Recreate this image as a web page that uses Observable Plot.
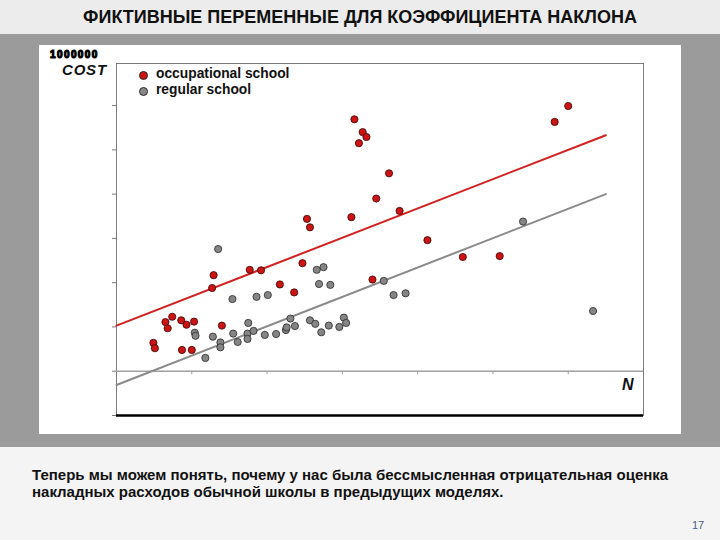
<!DOCTYPE html>
<html><head><meta charset="utf-8">
<script src="https://cdn.jsdelivr.net/npm/d3@7"></script>
<script src="https://cdn.jsdelivr.net/npm/@observablehq/plot@0.6"></script>
<style>
body{margin:0;background:#f3f3f3;}
#page{position:relative;width:720px;height:540px;background:#f4f4f4;font-family:"Liberation Sans",Arial,sans-serif;overflow:hidden}
#top{position:absolute;left:0;top:0;width:720px;height:34px;background:#ececec}
#title{position:absolute;left:0;top:0;width:720px;height:34px;line-height:34px;text-align:center;font-weight:bold;font-size:18px;color:#111}
#band{position:absolute;left:0;top:34px;width:720px;height:413px;background:#9b9b9b}
#panel{position:absolute;left:39px;top:45px;width:642px;height:389px;background:#fff}
#panel svg{display:block}
.ov{position:absolute;white-space:nowrap}
#garbled{position:absolute;left:50px;top:50px;font-weight:bold;font-size:10px;letter-spacing:1.4px;color:#000;line-height:9px;height:9px;-webkit-text-stroke:1.1px #000}
#cost{position:absolute;left:62px;top:63px;font-weight:bold;font-style:italic;font-size:15px;letter-spacing:0.8px;color:#111;line-height:13px}
#caption{position:absolute;left:32px;top:466px;font-weight:bold;font-size:15px;line-height:17px;color:#111}
#pg{position:absolute;left:692px;top:519px;font-size:11px;color:#4a5b8c}
.leg{position:absolute;font-weight:bold;font-size:13.8px;color:#111;line-height:16px}
.ldot{position:absolute;width:7px;height:7px;border-radius:50%;border:0.8px solid #2a2a2a}
</style></head><body>
<div id="page">
  <div id="top"></div>
  <div id="title">ФИКТИВНЫЕ ПЕРЕМЕННЫЕ ДЛЯ КОЭФФИЦИЕНТА НАКЛОНА</div>
  <div id="band"></div>
  <div id="panel"></div>
  <div id="garbled"></div>
  <div id="cost">COST</div>
  <div class="ov" style="left:622px;top:376px;font-weight:bold;font-style:italic;font-size:16px;color:#111">N</div>
  <div class="ldot" style="left:139px;top:71px;background:#cc1414"></div>
  <div class="leg" style="left:156px;top:66px">occupational school</div>
  <div class="ldot" style="left:139px;top:86.5px;background:#888"></div>
  <div class="leg" style="left:156px;top:82px">regular school</div>
  <div id="caption">Теперь мы можем понять, почему у нас была бессмысленная отрицательная оценка<br>накладных расходов обычной школы в предыдущих моделях.</div>
  <div id="pg">17</div>
</div>
<script>
const redX = [0.49,0.51,0.65,0.68,0.74,0.86,0.93,1.03,0.87,1.00,1.27,1.29,1.40,1.77,1.92,2.17,2.36,2.47,2.53,2.57,3.12,3.16,3.22,3.27,3.32,3.40,3.45,3.62,3.76,4.13,4.60,5.09,5.82,6.00];
const redY = [0.64,0.52,1.11,0.97,1.23,1.15,1.05,1.12,0.48,0.48,1.88,2.17,1.03,2.29,2.28,1.96,1.78,2.44,3.44,3.25,3.48,5.69,5.15,5.40,5.29,2.07,3.90,4.47,3.62,2.96,2.58,2.60,5.63,5.99];
const grayX = [1.18,1.04,1.05,1.28,1.35,1.38,1.38,1.54,1.55,1.61,1.74,1.74,1.75,1.82,1.86,1.97,2.01,2.12,2.25,2.26,2.31,2.37,2.57,2.64,2.66,2.69,2.72,2.75,2.82,2.84,2.96,3.02,3.05,3.55,3.68,3.84,5.40,6.33];
const grayY = [0.30,0.87,0.80,0.78,2.76,0.65,0.54,1.63,0.85,0.66,0.85,0.73,1.09,0.91,1.68,0.82,1.72,0.84,0.93,0.99,1.19,1.02,1.15,1.07,2.29,1.97,0.88,2.35,1.03,1.95,1.00,1.21,1.09,2.04,1.72,1.76,3.38,1.36];
const redLineX = [0, 6.5], redLineY = [1.03, 5.33];
const grayLineX = [0, 6.5], grayLineY = [-0.31, 4.0];
const xTicks = [1,2,3,4,5,6];
const yTicks = [-1,0,1,2,3,4,5,6];
const garbledLabel = "1000000";

const red = redX.map((x,i)=>({x, y: redY[i]}));
const gray = grayX.map((x,i)=>({x, y: grayY[i]}));
const redLine = redLineX.map((x,i)=>({x, y: redLineY[i]}));
const grayLine = grayLineX.map((x,i)=>({x, y: grayLineY[i]}));

document.getElementById("garbled").textContent = garbledLabel;

const chart = Plot.plot({
  width: 642, height: 389,
  marginLeft: 77, marginRight: 38, marginTop: 18, marginBottom: 19,
  style: {background: "#fff", overflow: "visible"},
  x: {domain: [0, 7], axis: null},
  y: {domain: [-1, 6.95], axis: null},
  marks: [
    Plot.frame({stroke: "#7a7a7a", strokeWidth: 1}),
    Plot.ruleY([0], {stroke: "#a0a0a0", strokeWidth: 1.5}),
    Plot.ruleX(xTicks, {x: d=>d, y1: 0, y2: -0.08, stroke: "#a0a0a0", strokeWidth: 1}),
    Plot.axisY({ticks: yTicks, tickSize: 4, tickFormat: () => "", label: null, stroke: "#7a7a7a"}),
    Plot.ruleY([-1], {stroke: "#000", strokeWidth: 2.5}),
    Plot.line(grayLine, {x: "x", y: "y", stroke: "#8a8a8a", strokeWidth: 2}),
    Plot.line(redLine, {x: "x", y: "y", stroke: "#d42020", strokeWidth: 2}),
    Plot.dot(gray, {x: "x", y: "y", r: 3.6, fill: "#858585", stroke: "#2a2a2a", strokeWidth: 0.8}),
    Plot.dot(red, {x: "x", y: "y", r: 3.6, fill: "#cc1414", stroke: "#3a0505", strokeWidth: 0.8})
  ]
});
document.getElementById("panel").appendChild(chart);
</script>
</body></html>
